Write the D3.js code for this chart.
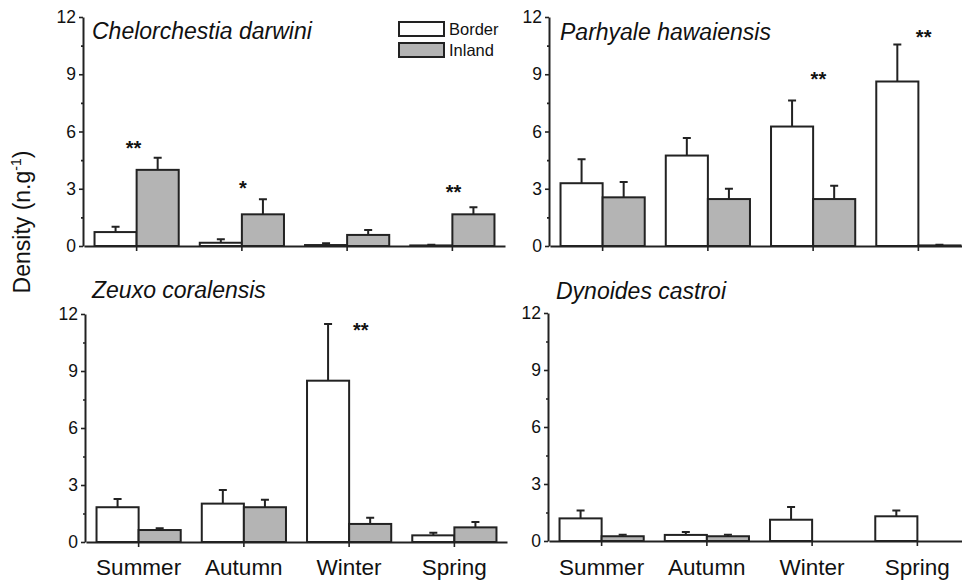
<!DOCTYPE html>
<html lang="en">
<head>
  <meta charset="UTF-8">
  <title>Density by season</title>
  <script src="https://cdn.jsdelivr.net/npm/d3@7/dist/d3.min.js"></script>
  <style>
    body { margin: 0; background: #fff; }
    svg { font-family: "Liberation Sans", Arial, sans-serif; }
    .axis .domain { stroke: #222; stroke-width: 2px; }
    .axis .tick line { stroke: #222; stroke-width: 1.6px; }
    .axis .tick text { font-size: 17.5px; fill: #111; }
    .bar { stroke: #222; stroke-width: 2px; }
    .err { stroke: #222; stroke-width: 2px; fill: none; }
    .title { font-size: 23px; font-style: italic; fill: #111; }
    .season { font-size: 22.5px; fill: #111; text-anchor: middle; }
    .star { font-size: 20px; font-weight: bold; fill: #111; text-anchor: middle; }
  </style>
</head>
<body>
<div class="chart"></div>
<script>
  // values (density, n.g-1)
  const seasons = ["Summer", "Autumn", "Winter", "Spring"];
  const species = ["Chelorchestia darwini", "Parhyale hawaiensis", "Zeuxo coralensis", "Dynoides castroi"];
  const yTicks = [0, 3, 6, 9, 12];
  const yMinor = [1.5, 4.5, 7.5, 10.5];

  const borderMean = [
    [0.73, 0.17, 0.05, 0.03],
    [3.29, 4.74, 6.26, 8.62],
    [1.83, 2.02, 8.49, 0.35],
    [1.19, 0.32, 1.12, 1.30]
  ];
  const borderErr = [
    [0.28, 0.18, 0.10, 0.03],
    [1.26, 0.92, 1.36, 1.94],
    [0.43, 0.72, 2.98, 0.14],
    [0.41, 0.15, 0.67, 0.30]
  ];
  const inlandMean = [
    [3.99, 1.66, 0.58, 1.66],
    [2.55, 2.46, 2.46, 0.03],
    [0.63, 1.83, 0.95, 0.77],
    [0.25, 0.25, 0, 0]
  ];
  const inlandErr = [
    [0.64, 0.79, 0.26, 0.37],
    [0.81, 0.54, 0.70, 0.03],
    [0.10, 0.40, 0.33, 0.28],
    [0.08, 0.08, 0, 0]
  ];
  // significance marks: panel, season, label, height in density units
  const starPanel = [0, 0, 0, 1, 1, 2];
  const starSeason = ["Summer", "Autumn", "Spring", "Winter", "Spring", "Winter"];
  const starText = ["**", "*", "**", "**", "**", "**"];
  const starValue = [5.4, 3.3, 3.1, 9.0, 11.2, 11.4];

  const W = 962, H = 583;
  const svg = d3.select('.chart').append('svg').attr('width', W).attr('height', H);

  // panel frames: left edge of x axis, y of zero line, y of 12
  const frames = [
    {x0: 84, y0: 246, y1: 17, title: [92, 39]},
    {x0: 550, y0: 246, y1: 17, title: [560, 40]},
    {x0: 86, y0: 542, y1: 314, title: [92, 298]},
    {x0: 549, y0: 541, y1: 313, title: [556, 299]}
  ];
  const axisLen = 421;
  const barFrac = 0.4;
  const starShift = [-0.03, 0.01, 0.01, 0.05, 0.05, 0.11];

  frames.forEach((f, p) => {
    const g = svg.append('g');
    const x = d3.scaleBand().domain(seasons).range([f.x0, f.x0 + axisLen]).padding(0);
    const y = d3.scaleLinear().domain([0, 12]).range([f.y0, f.y1]);
    const bw = x.bandwidth() * barFrac;
    const cx = s => x(s) + x.bandwidth() / 2;

    // bars
    const groups = [
      {mean: borderMean[p], err: borderErr[p], fill: '#fff', off: -1},
      {mean: inlandMean[p], err: inlandErr[p], fill: '#b4b4b4', off: 0}
    ];
    groups.forEach(gr => {
      const rows = seasons.map((s, i) => ({s, v: gr.mean[i], e: gr.err[i]})).filter(d => d.v > 0);
      g.selectAll(null).data(rows).enter().append('rect')
        .attr('class', 'bar')
        .attr('x', d => cx(d.s) + gr.off * bw)
        .attr('y', d => y(d.v))
        .attr('width', bw)
        .attr('height', d => y(0) - y(d.v))
        .attr('fill', gr.fill);
      g.selectAll(null).data(rows).enter().append('path')
        .attr('class', 'err')
        .attr('d', d => {
          const mx = cx(d.s) + gr.off * bw + bw / 2;
          return `M${mx},${y(d.v)}V${y(d.v + d.e)}M${mx - 4},${y(d.v + d.e)}H${mx + 4}`;
        });
    });

    // axes
    g.append('g').attr('class', 'axis')
      .attr('transform', `translate(0,${f.y0})`)
      .call(d3.axisBottom(x).tickSize(5).tickSizeOuter(0).tickFormat(''));
    g.append('g').attr('class', 'axis')
      .attr('transform', `translate(${f.x0 - 1},0)`)
      .call(d3.axisLeft(y).tickValues(yTicks).tickSize(4).tickSizeOuter(0).tickPadding(3));
    g.append('g').attr('class', 'axis minor')
      .attr('transform', `translate(${f.x0 - 1},0)`)
      .call(d3.axisLeft(y).tickValues(yMinor).tickSize(2).tickSizeOuter(0).tickFormat(''))
      .select('.domain').remove();

    // title
    g.append('text').attr('class', 'title')
      .attr('x', f.title[0]).attr('y', f.title[1])
      .text(species[p]);

    // season labels on bottom row
    if (p >= 2) {
      g.selectAll(null).data(seasons).enter().append('text')
        .attr('class', 'season')
        .attr('x', d => cx(d))
        .attr('y', 575)
        .text(d => d);
    }

    // significance stars
    starPanel.forEach((sp, k) => {
      if (sp !== p) return;
      g.append('text').attr('class', 'star')
        .attr('x', cx(starSeason[k]) + starShift[k] * x.bandwidth())
        .attr('y', y(starValue[k]) + 12)
        .text(starText[k]);
    });
  });

  // legend
  const legendItems = ["Border", "Inland"];
  const legendFill = ['#fff', '#b4b4b4'];
  const lg = svg.append('g').attr('transform', 'translate(399,22)');
  legendItems.forEach((name, i) => {
    lg.append('rect').attr('class', 'bar')
      .attr('x', 0).attr('y', i * 21).attr('width', 45).attr('height', 14)
      .attr('fill', legendFill[i]);
    lg.append('text').attr('x', 50).attr('y', i * 21 + 13)
      .attr('font-size', 16.5).attr('fill', '#111').text(name);
  });

  // y label
  const yl = svg.append('text')
    .attr('transform', 'translate(30,222) rotate(-90)')
    .attr('text-anchor', 'middle')
    .attr('font-size', 23).attr('fill', '#111');
  yl.append('tspan').text('Density (n.g');
  yl.append('tspan').attr('font-size', 14).attr('dy', -9).text('-1');
  yl.append('tspan').attr('dy', 9).text(')');
</script>
</body>
</html>
